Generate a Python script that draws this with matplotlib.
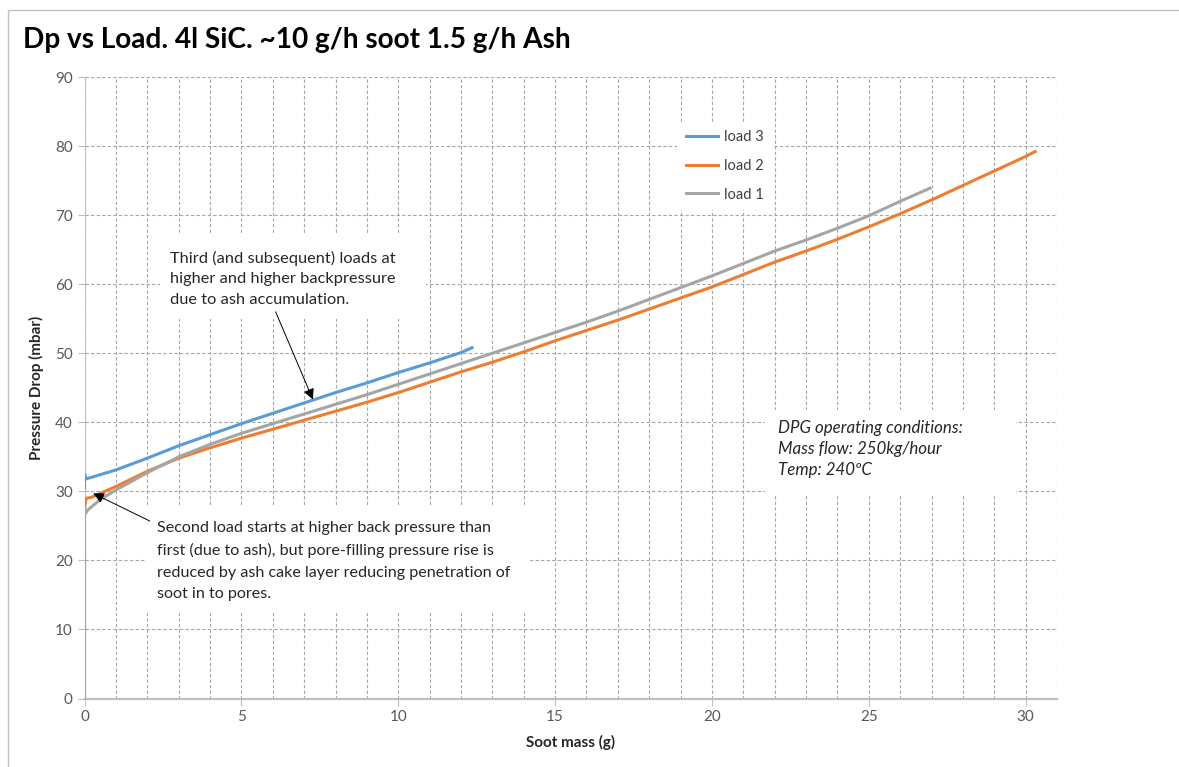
import matplotlib.pyplot as plt
from matplotlib.patches import Rectangle

plt.rcParams['font.family'] = ['Lato', 'DejaVu Sans']

# values
load3_x = [0, 0, 0.05, 1, 2, 3, 4, 5, 6, 7, 8, 9, 10, 11, 12, 12.35]
load3_y = [30.5, 32.5, 31.8, 33.1, 34.8, 36.6, 38.2, 39.8, 41.3, 42.8, 44.3, 45.7, 47.2, 48.6, 50.1, 50.8]

load2_x = [0, 0.05, 0.2, 1, 2, 3, 4, 5, 6, 7, 8, 9, 10, 11, 12, 13, 14, 15,
           16, 17, 18, 19, 20, 21, 22, 23, 24, 25, 26, 27, 28, 29, 30, 30.3]
load2_y = [27.5, 29.0, 29.1, 30.7, 32.9, 34.8, 36.3, 37.7, 39.0, 40.3, 41.6, 42.9, 44.3, 45.8, 47.3, 48.7, 50.2, 51.8,
           53.3, 54.8, 56.4, 58.0, 59.6, 61.4, 63.2, 64.8, 66.5, 68.3, 70.2, 72.2, 74.3, 76.4, 78.5, 79.2]

load1_x = [0, 0, 0.1, 0.5, 1, 2, 3, 4, 5, 6, 7, 8, 9, 10, 11, 12, 13, 14, 15,
           16, 17, 18, 19, 20, 21, 22, 23, 24, 25, 26, 26.95]
load1_y = [0, 26.6, 27.3, 28.8, 30.2, 32.7, 35.0, 36.8, 38.4, 39.8, 41.2, 42.6, 44.0, 45.5, 47.0, 48.5, 50.0, 51.5, 53.0,
           54.5, 56.1, 57.8, 59.5, 61.2, 63.0, 64.8, 66.4, 68.1, 69.9, 72.0, 73.9]

title = 'Dp vs Load. 4l SiC. ~10 g/h soot 1.5 g/h Ash'
note3 = 'Third (and subsequent) loads at\nhigher and higher backpressure\ndue to ash accumulation.'
note2 = ('Second load starts at higher back pressure than\nfirst (due to ash), but pore-filling pressure rise is\n'
         'reduced by ash cake layer reducing penetration of\nsoot in to pores.')
note_dpg = 'DPG operating conditions:\nMass flow: 250kg/hour\nTemp: 240\u00baC'

fig = plt.figure(figsize=(11.79, 7.67), dpi=100)
fig.patches.append(Rectangle((8 / 1179, -0.01), 1.0, 1 - 10 / 767 + 0.01, transform=fig.transFigure,
                             fill=False, edgecolor='#BFBFBF', lw=1))
ax = fig.add_axes([0.0717, 0.0893, 0.8249, 0.8103])

ax.set_xlim(0, 31)
ax.set_ylim(0, 90)
ax.set_xticks(range(0, 31, 5))
ax.set_xticks(range(0, 32), minor=True)
ax.set_yticks(range(0, 91, 10))
ax.grid(True, which='both', axis='x', color='#A6A6A6', ls=(0, (3, 2)), lw=0.8, zorder=0)
ax.grid(True, which='major', axis='y', color='#A6A6A6', ls=(0, (3, 2)), lw=0.8, zorder=0)
ax.set_axisbelow(True)
for s in ['top', 'right']:
    ax.spines[s].set_visible(False)
ax.spines['left'].set_color('#BFBFBF')
ax.spines['bottom'].set_color('#BFBFBF')
ax.spines['bottom'].set_linewidth(1.6)
ax.tick_params(axis='both', which='major', colors='#BFBFBF', labelcolor='#595959', labelsize=11, length=5)
ax.tick_params(axis='x', which='minor', length=0)

# white boxes under the notes
ax.add_patch(Rectangle((2.4, 54.9), 8.5, 12.3, facecolor='white', edgecolor='none', zorder=1))
ax.add_patch(Rectangle((1.92, 12.4), 12.2, 15.6, facecolor='white', edgecolor='none', zorder=1))
ax.add_patch(Rectangle((21.7, 29.3), 8.0, 12.5, facecolor='white', edgecolor='none', zorder=1))

l3, = ax.plot(load3_x, load3_y, color='#5B9BD5', lw=2.2, label='load 3', zorder=3)
l2, = ax.plot(load2_x, load2_y, color='#ED7D31', lw=2.2, label='load 2', zorder=3)
l1, = ax.plot(load1_x, load1_y, color='#A5A5A5', lw=2.2, label='load 1', zorder=3)

ax.text(2.73, 60.8, note3, fontsize=11.8, color='#262626', va='center', ha='left', linespacing=1.6, zorder=2)
ax.text(2.3, 19.9, note2, fontsize=11.6, color='#262626', va='center', ha='left', linespacing=1.65, zorder=2)
ax.text(22.1, 36.1, note_dpg, fontsize=12.2, color='#262626', va='center', ha='left', style='italic',
        linespacing=1.4, zorder=2)

ax.annotate('', xy=(7.28, 43.3), xytext=(6.09, 56.0),
            arrowprops=dict(arrowstyle='-|>', color='black', lw=0.7, mutation_scale=16, shrinkA=0, shrinkB=0), zorder=4)
ax.annotate('', xy=(0.28, 29.7), xytext=(2.08, 25.7),
            arrowprops=dict(arrowstyle='-|>', color='black', lw=0.7, mutation_scale=16, shrinkA=0, shrinkB=0), zorder=4)

leg = ax.legend(handles=[l3, l2, l1], loc='upper left', bbox_to_anchor=(0.602, 0.94), frameon=True,
                facecolor='white', edgecolor='none', framealpha=1, fancybox=False, fontsize=10.5,
                handlelength=2.2, labelspacing=1.0, handletextpad=0.4, borderpad=0.6)
for t in leg.get_texts():
    t.set_color('#404040')

ax.set_ylabel('Pressure Drop (mbar)', fontsize=11, fontweight='bold', color='#262626', labelpad=8)
ax.set_xlabel('Soot mass (g)', fontsize=11, fontweight='bold', color='#262626', labelpad=8)
fig.text(23 / 1179, 1 - 40 / 767, title, fontsize=20.2, fontweight='bold', color='black', ha='left', va='center')

fig.savefig('out.png', dpi=100)
